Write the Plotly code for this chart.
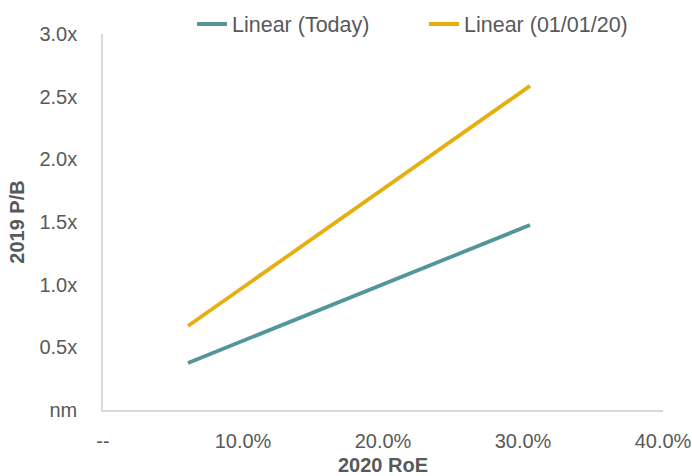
import plotly.graph_objects as go

# Fitted trend endpoints: 2020 RoE vs 2019 P/B
roe = [0.0607, 0.305]
pb_today = [0.375, 1.476]
pb_jan20 = [0.670, 2.586]

series_names = ["Linear (Today)", "Linear (01/01/20)"]
series_colors = ["#53969A", "#E6AF0F"]

x_ticks = [0.0, 0.1, 0.2, 0.3, 0.4]
x_labels = ["--", "10.0%", "20.0%", "30.0%", "40.0%"]
y_ticks = [0.0, 0.5, 1.0, 1.5, 2.0, 2.5, 3.0]
y_labels = ["nm", "0.5x", "1.0x", "1.5x", "2.0x", "2.5x", "3.0x"]

font_family = "Liberation Sans, Arial, sans-serif"
text_color = "#595959"
axis_color = "#D9D9D9"
fs = 20
legend_fs = 21.5

# each series gets its own legend box so the two entries can be spaced apart
legend_ids = ["legend", "legend2"]
legend_left_px = [192, 424]

fig = go.Figure()
for name, ys, color, lid in zip(series_names, [pb_today, pb_jan20], series_colors, legend_ids):
    fig.add_trace(go.Scatter(
        x=roe, y=ys, mode="lines", name=name, legend=lid,
        line=dict(color=color, width=3.8),
    ))

legend_style = dict(
    orientation="h", xref="container", yref="container",
    xanchor="left", y=1 - 24 / 476, yanchor="middle",
    font=dict(size=legend_fs, color=text_color), bgcolor="rgba(0,0,0,0)",
    itemwidth=30,
)

fig.update_layout(
    width=692, height=476,
    margin=dict(l=103, r=29, t=34, b=66, autoexpand=False),
    paper_bgcolor="white", plot_bgcolor="white",
    font=dict(family=font_family, size=fs, color=text_color),
    showlegend=True,
    legend=dict(x=legend_left_px[0] / 692, **legend_style),
    legend2=dict(x=legend_left_px[1] / 692, **legend_style),
    xaxis=dict(
        range=[0, 0.4], tickvals=x_ticks, ticktext=x_labels,
        showgrid=False, zeroline=False, showline=True, linecolor=axis_color, linewidth=1.5,
        ticks="", ticklabelstandoff=12,
        title=dict(text="<b>2020 RoE</b>", font=dict(size=fs, color=text_color), standoff=13),
    ),
    yaxis=dict(
        range=[0, 3.0], tickvals=y_ticks, ticktext=y_labels,
        showgrid=False, zeroline=False, showline=True, linecolor=axis_color, linewidth=1.5,
        ticks="", ticklabelstandoff=20,
        title=dict(text="<b>2019 P/B</b>", font=dict(size=fs, color=text_color), standoff=9),
    ),
)

fig.write_html("out.html")
